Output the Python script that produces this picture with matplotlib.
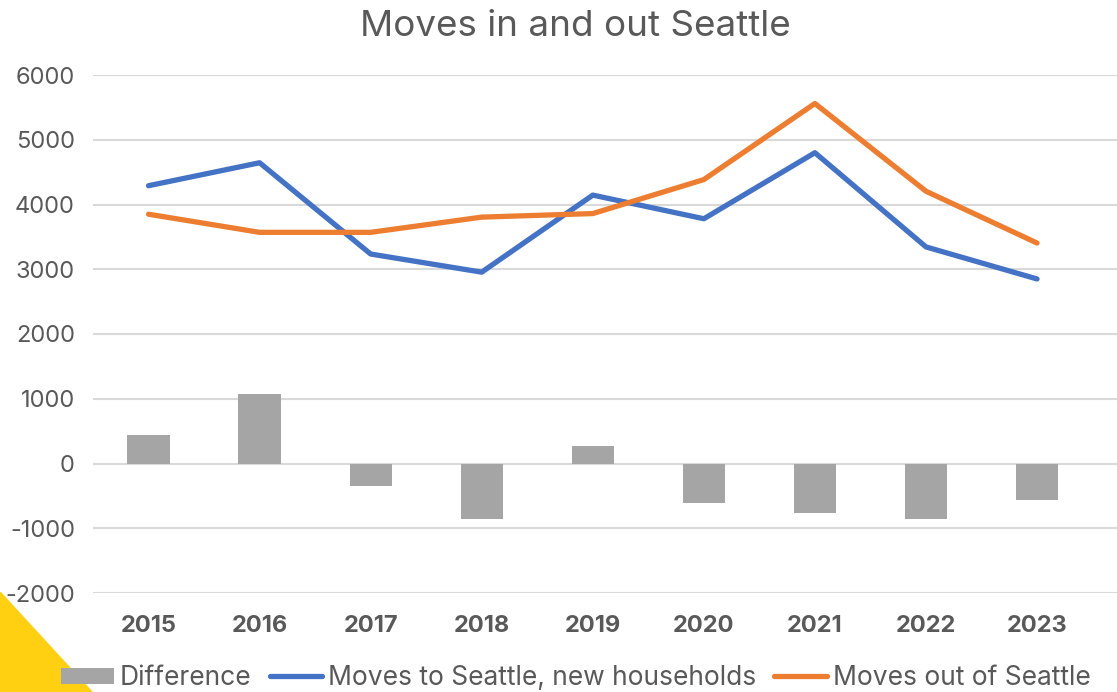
import matplotlib
matplotlib.use('Agg')
import matplotlib.pyplot as plt
from matplotlib.patches import Polygon
import numpy as np

## chart data
years = ['2015', '2016', '2017', '2018', '2019', '2020', '2021', '2022', '2023']
moves_in = [4290, 4645, 3235, 2955, 4145, 3780, 4800, 3345, 2850]
moves_out = [3850, 3570, 3570, 3805, 3860, 4385, 5560, 4205, 3405]
difference = [435, 1070, -340, -860, 275, -605, -760, -858, -563]

yticks = [-2000, -1000, 0, 1000, 2000, 3000, 4000, 5000, 6000]

W, H = 1117, 692
plt.rcParams['font.family'] = ['Inter', 'DejaVu Sans']
plt.rcParams['axes.unicode_minus'] = False
txt = '#595959'

fig = plt.figure(figsize=(W / 100, H / 100), dpi=100)
ax = fig.add_axes([93 / W, 1 - 593 / H, 1 - 93 / W, (593 - 75) / H])

x = np.arange(len(years))
b = ax.bar(x, difference, width=0.38, color='#a5a5a5', label='Difference', zorder=2)
l1, = ax.plot(x, moves_in, color='#4472c4', lw=3.8, solid_capstyle='round',
              label='Moves to Seattle, new households', zorder=3)
l2, = ax.plot(x, moves_out, color='#ed7d31', lw=3.8, solid_capstyle='round',
              label='Moves out of Seattle', zorder=3)

ax.set_ylim(-2000, 6000)
ax.set_yticks(yticks)
ax.set_xlim(-0.5, 8.72)
ax.set_xticks(x)
ax.set_xticklabels(years, fontweight='bold')
ax.grid(axis='y', color='#d9d9d9', lw=1.5, zorder=0)
for s in ax.spines.values():
    s.set_visible(False)
ax.tick_params(axis='y', length=0, pad=13, labelsize=17, labelcolor=txt)
ax.tick_params(axis='x', length=0, pad=16, labelsize=17, labelcolor=txt)

fig.text(575 / W, 1 - 26 / H, 'Moves in and out Seattle', ha='center', va='center',
         fontsize=26.5, color=txt)

fig.legend(handles=[b, l1, l2], loc='center', bbox_to_anchor=(576 / W, 1 - 678 / H),
           ncol=3, frameon=False, fontsize=19, labelcolor=txt, handlelength=2.0,
           handleheight=0.55, handletextpad=0.22, columnspacing=0.68, borderpad=0)

## yellow corner decoration
fig.patches.append(Polygon([[0, 1 - 592 / H], [0, 0], [92 / W, 0]], closed=True,
                           transform=fig.transFigure, color='#ffd012', zorder=0))

fig.savefig('out.png', dpi=100)
